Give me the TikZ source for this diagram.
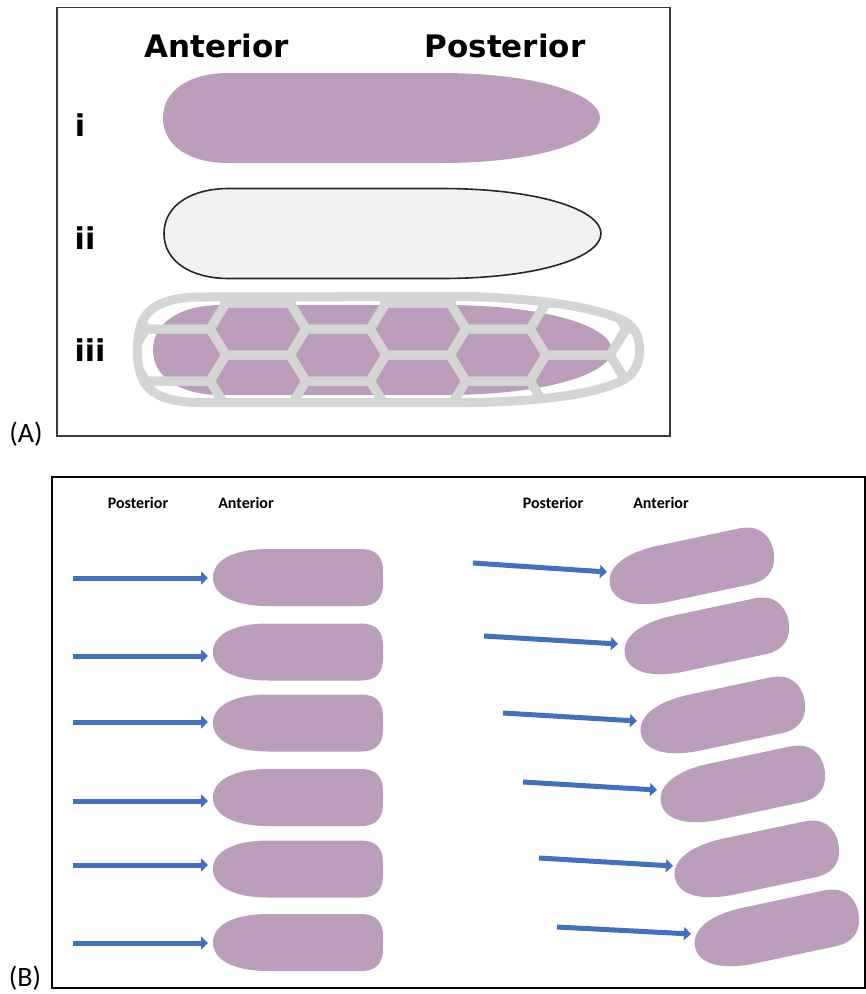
\documentclass[tikz,border=0pt]{standalone}
\usepackage{fontspec}
\setmainfont{Carlito}
\newfontfamily\headfont{DejaVu Sans}
\usetikzlibrary{arrows.meta}

\definecolor{cellpurple}{HTML}{BB9EBB}
\definecolor{meshgrey}{HTML}{D5D5D5}
\definecolor{wallfill}{HTML}{F2F2F2}
\definecolor{wallline}{HTML}{262626}
\definecolor{arrowblue}{HTML}{4170C2}
\definecolor{framegrey}{HTML}{3A3A3A}

% outline of a long cell: rounded anterior end at (0,0), tapered posterior end
\newcommand\longcellpath{(0,0) .. controls (0,-28) and (27,-45) .. (65,-45) -- (277,-45)
  .. controls (377,-45) and (437,-23) .. (437,0) .. controls (437,23) and (377,45) .. (277,45)
  -- (65,45) .. controls (27,45) and (0,28) .. (0,0) -- cycle}
% outline of a short cell: tapered end at (0,0), blunt end on the right
\newcommand\shortcellpath{(0,0) .. controls (0,-18) and (22,-28.5) .. (55,-28.5) -- (148,-28.5)
  .. controls (164,-28.5) and (170,-20) .. (170,-6) -- (170,6) .. controls (170,20) and (164,28.5) .. (148,28.5)
  -- (55,28.5) .. controls (22,28.5) and (0,18) .. (0,0) -- cycle}
% same cell with a fully rounded blunt end
\newcommand\roundcellpath{(0,0) .. controls (0,-18) and (22,-28.5) .. (55,-28.5) -- (138,-28.5)
  .. controls (158,-28.5) and (167,-16) .. (167,0) .. controls (167,16) and (158,28.5) .. (138,28.5)
  -- (55,28.5) .. controls (22,28.5) and (0,18) .. (0,0) -- cycle}
% cage around the enclosed cell
\newcommand\cagepath{(137.5,350) .. controls (137.5,315) and (150,298) .. (200,297) -- (470,296.5)
  .. controls (545,299) and (600,308) .. (626,322) .. controls (645,334) and (643,366) .. (628,377)
  .. controls (600,396) and (525,402) .. (470,402.5) -- (200,402.5) .. controls (150,402) and (137.5,385) .. (137.5,350) -- cycle}
% one hexagon of the mesh centred at (#1,#2)
\newcommand\hexcell[2]{\draw[meshline] (#1-48,#2) -- (#1-32,#2-26) -- (#1+32,#2-26) -- (#1+48,#2)
  -- (#1+32,#2+26) -- (#1-32,#2+26) -- cycle;}

\tikzset{
  panelframe/.style={draw=framegrey, line width=1.8pt},
  headlabel/.style={font=\headfont\bfseries\fontsize{31}{33}\selectfont, inner sep=0pt},
  rowlabel/.style={font=\headfont\bfseries\fontsize{30}{32}\selectfont, inner sep=0pt},
  smalllabel/.style={font=\bfseries\fontsize{16}{18}\selectfont, inner sep=0pt},
  panellabel/.style={font=\fontsize{28}{30}\selectfont, inner sep=0pt},
  meshline/.style={draw=meshgrey, line width=9pt, line join=round, line cap=round},
  pusharrow/.style={draw=arrowblue, line width=5pt, -{Triangle[length=7pt,width=13pt]}},
}

\begin{document}
\begin{tikzpicture}[x=1pt, y=-1pt]
\useasboundingbox (0,0) rectangle (866,994);
\fill[white] (0,0) rectangle (866,994);

% ---------------- panel A ----------------
\draw[panelframe] (57,7.5) rectangle (670,436);
\node[panellabel] (labA) at (26,434) {(A)};
\node[headlabel] (antA) at (217,46) {Anterior};
\node[headlabel] (postA) at (505,46) {Posterior};
\node[rowlabel] (rowi) at (80,125) {i};
\node[rowlabel] (rowii) at (85,238) {ii};
\node[rowlabel] (rowiii) at (90,350) {iii};

% i: bare cell
\fill[cellpurple, shift={(163,118)}] \longcellpath;
% ii: empty wall
\draw[fill=wallfill, draw=wallline, line width=1.6pt, shift={(164,233.5)}] \longcellpath;
% iii: cell inside a hexagonal cage
\fill[cellpurple, shift={(153,350)}, xscale=1.05] \longcellpath;
\begin{scope}
  \clip \cagepath;
  \foreach \cx in {18,178,338,498,658}{
    \foreach \cy in {251,303,355,407,459}{\hexcell{\cx}{\cy}}}
  \foreach \cx in {98,258,418,578}{
    \foreach \cy in {277,329,381,433}{\hexcell{\cx}{\cy}}}
\end{scope}
\draw[meshline] \cagepath;

% ---------------- panel B ----------------
\draw[draw=black, line width=1.5pt] (52,477) rectangle (865,988);
\node[panellabel] (labB) at (25,978) {(B)};
\node[smalllabel] (postBl) at (138,503) {Posterior};
\node[smalllabel] (antBl) at (246,503) {Anterior};
\node[smalllabel] (postBr) at (553,503) {Posterior};
\node[smalllabel] (antBr) at (661,503) {Anterior};

% straight row of cells pushed from the left
\foreach \i/\ay/\cy in {1/578/577.5, 2/656/652, 3/722/723, 4/801/797.5, 5/865/869, 6/943/942.5}{
  \fill[cellpurple, shift={(213,\cy)}] \shortcellpath;
  \coordinate (ls\i) at (73,\ay);
  \coordinate (le\i) at (208,\ay);
  \draw[pusharrow] (ls\i) -- (le\i);
}

% tilted row of cells pushed from the left
\foreach \i/\tx/\ty/\sx/\sy/\ex/\ey in {1/610/585/473/563/607/572, 2/625/655/484/636/618/644,
    3/641/734/503/713/637/721, 4/661/803/523/782/657/790, 5/675/878/539/858/673/866, 6/695/947/557/927/691/934}{
  \fill[cellpurple, shift={(\tx,\ty)}, rotate=12] \roundcellpath;
  \coordinate (rs\i) at (\sx,\sy);
  \coordinate (re\i) at (\ex,\ey);
  \draw[pusharrow] (rs\i) -- (re\i);
}
\end{tikzpicture}
\end{document}
